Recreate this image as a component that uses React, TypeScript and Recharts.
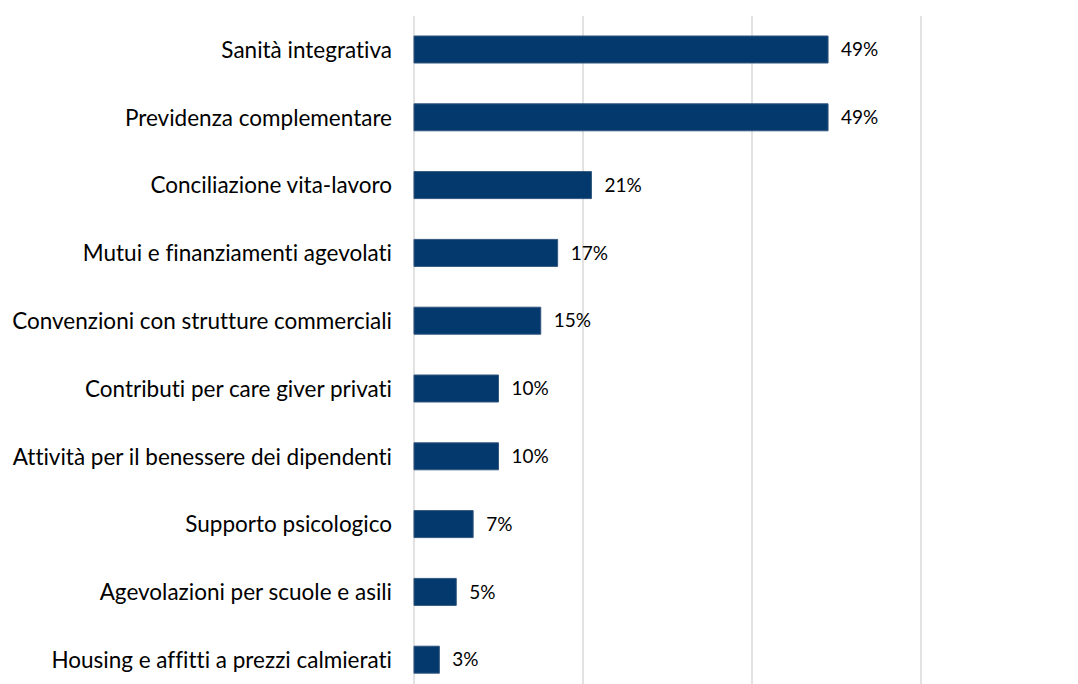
import { BarChart, Bar, XAxis, YAxis, CartesianGrid, LabelList } from "recharts";

// categorie e valori (%)
const categories = [
  "Sanità integrativa",
  "Previdenza complementare",
  "Conciliazione vita-lavoro",
  "Mutui e finanziamenti agevolati",
  "Convenzioni con strutture commerciali",
  "Contributi per care giver privati",
  "Attività per il benessere dei dipendenti",
  "Supporto psicologico",
  "Agevolazioni per scuole e asili",
  "Housing e affitti a prezzi calmierati",
];
const values = [49, 49, 21, 17, 15, 10, 10, 7, 5, 3];
const xTicks = [0, 20, 40, 60];

const data = categories.map((name, i) => ({ name, value: values[i] }));

const FONT = "Lato, 'Open Sans', sans-serif";

export default function App() {
  return (
    <div
      style={{
        position: "absolute",
        left: 0,
        top: 0,
        width: 1078,
        height: 684,
        overflow: "hidden",
        background: "#fff",
        fontVariantLigatures: "none",
      }}
    >
      <BarChart
        width={1078}
        height={700}
        data={data}
        layout="vertical"
        margin={{ top: 16, right: 157, bottom: 6, left: 0 }}
        barSize={27}
      >
        <CartesianGrid horizontal={false} stroke="#d9d9d9" strokeWidth={1.5} />
        <XAxis type="number" domain={[0, 60]} ticks={xTicks} hide />
        <YAxis
          type="category"
          dataKey="name"
          width={414}
          axisLine={false}
          tickLine={false}
          tickSize={0}
          tickMargin={22}
          interval={0}
          tick={{ fill: "#000", fontSize: 22.5, fontFamily: FONT }}
        />
        <Bar dataKey="value" fill="#03396c" stroke="#34577f" strokeWidth={1} isAnimationActive={false}>
          <LabelList
            dataKey="value"
            position="right"
            offset={13}
            formatter={(v: any) => `${v}%`}
            style={{ fill: "#000", fontSize: 19, fontFamily: FONT }}
          />
        </Bar>
      </BarChart>
    </div>
  );
}
